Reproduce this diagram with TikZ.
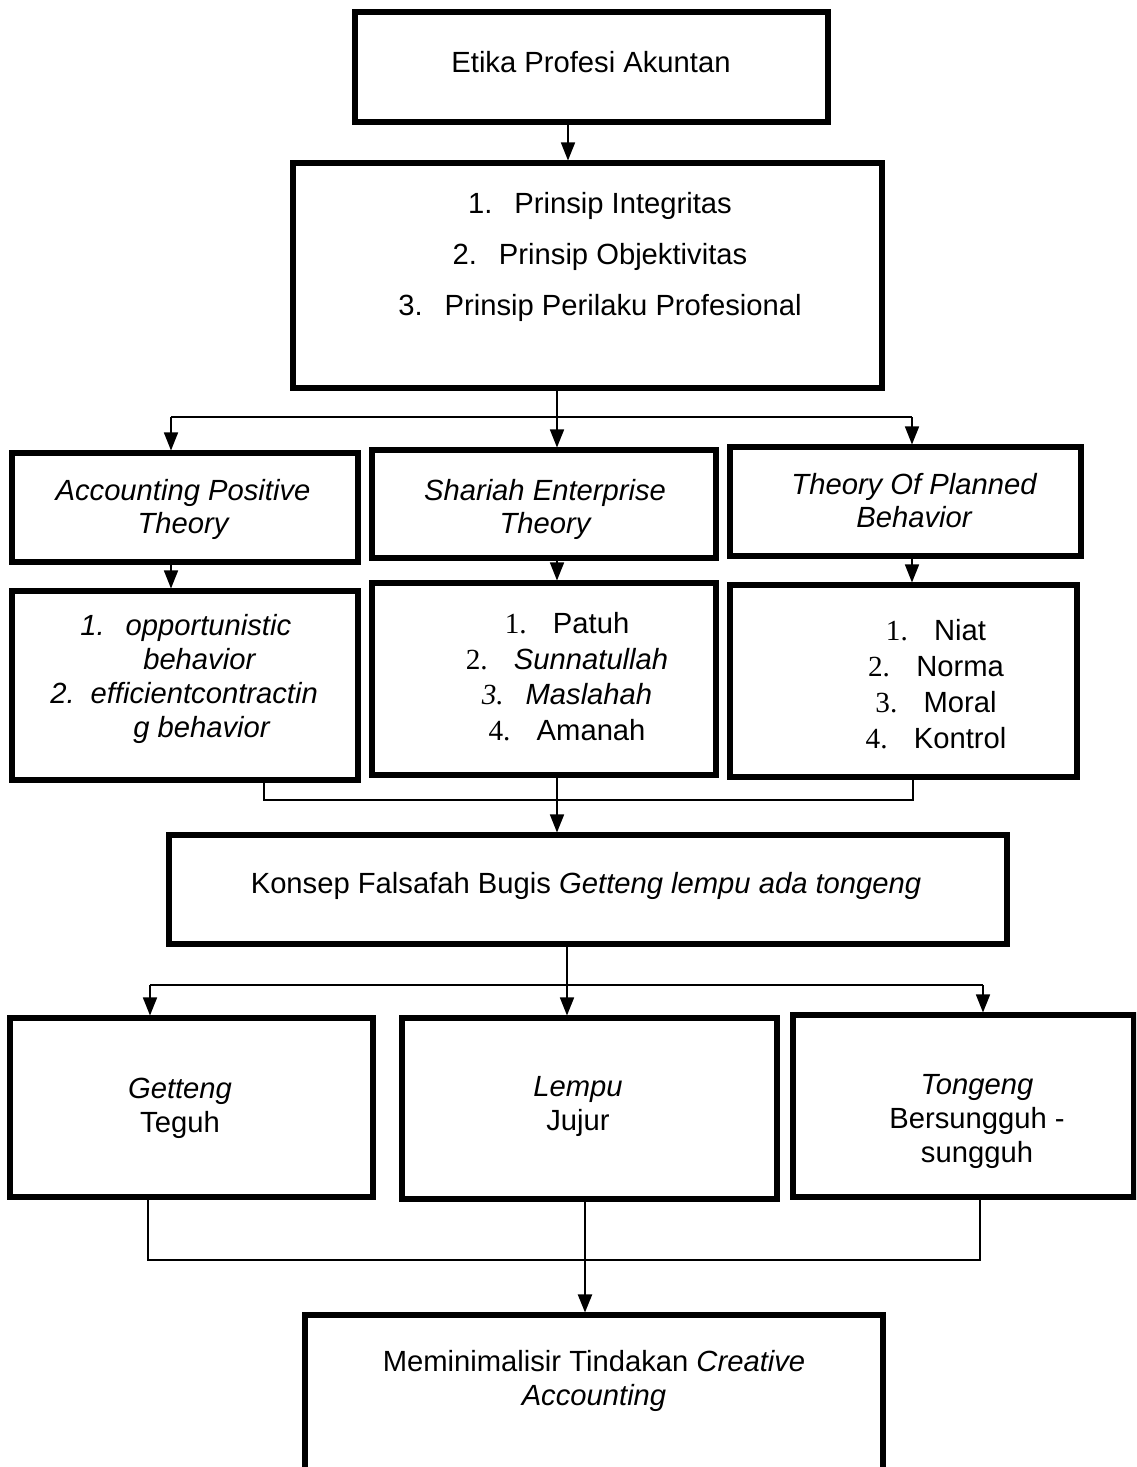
\documentclass[tikz,border=0pt]{standalone}
\usepackage{fontspec}
\setmainfont{Liberation Sans}
\newfontfamily\tnr{Liberation Serif}
\usetikzlibrary{arrows.meta}
\newcommand\bx[5]{\node[boxst, minimum width={(#4-#2)*0.75pt}, minimum height={(#5-#3)*0.75pt}] (#1) at ({(#2+#4)/2},{(#3+#5)/2}) {};}
\begin{document}
\begin{tikzpicture}[x=0.75pt,y=-0.75pt,
  boxst/.style={draw, line width=3.8pt, inner sep=0pt, rectangle},
  txt/.style={inner sep=0pt, align=center},
  ln/.style={line width=1.2pt},
  arr/.style={ln, -{Triangle[width=10.5pt,length=13.5pt]}}]
\useasboundingbox (0,0) rectangle (1136,1467);
\begin{scope}
\clip (0,0) rectangle (1136,1467);
% boxes
\bx{etika}{355}{12}{828}{122}
\bx{prin}{293}{163}{882}{388}
\bx{apt}{12}{453}{358}{562}
\bx{set}{372}{450}{716}{558}
\bx{tpb}{730}{447}{1081}{556}
\bx{lone}{12}{591}{358}{780}
\bx{ltwo}{372}{583}{716}{775}
\bx{lthree}{730}{585}{1077}{777}
\bx{konsep}{169}{835}{1007}{944}
\bx{gt}{10}{1018}{373}{1197}
\bx{lm}{402}{1018}{777}{1199}
\bx{tg}{793}{1015}{1134}{1197}
\bx{final}{305}{1315}{883}{1520}
% texts
\node[txt, font=\fontsize{21.9}{24.75}\selectfont] (etikaT) at (591,62) {Etika Profesi Akuntan};
\node[txt, font=\fontsize{21.9}{38.25}\selectfont] (prinT) at (600,257)
  {1.\hspace{0.75em}Prinsip Integritas\\2.\hspace{0.75em}Prinsip Objektivitas\\3.\hspace{0.75em}Prinsip Perilaku Profesional};
\node[txt, font=\fontsize{21.9}{24.75}\selectfont\itshape] (aptT) at (183,509.5) {Accounting Positive\\Theory};
\node[txt, font=\fontsize{21.9}{24.75}\selectfont\itshape] (setT) at (545,509.5) {Shariah Enterprise\\Theory};
\node[txt, font=\fontsize{21.9}{24.75}\selectfont\itshape] (tpbT) at (914,500.5) {Theory Of Planned\\Behavior};
\node[inner sep=0pt, align=left, anchor=west, font=\fontsize{21.9}{25.3}\selectfont\itshape] (loneT) at (50,679)
  {\hspace*{22.5pt}1.\hspace{15.75pt}opportunistic\\\hspace*{69.75pt}behavior\\2.\hspace{12pt}efficientcontractin\\\hspace*{62.25pt}g behavior};
\node[txt, font=\fontsize{21.9}{26.8}\selectfont] (ltwoT) at (567,676.5)
  {{\tnr 1.}\hspace{0.9em}Patuh\\{\tnr 2.}\hspace{0.9em}\textit{Sunnatullah}\\{\tnr\itshape 3.}\hspace{0.75em}\textit{Maslahah}\\{\tnr 4.}\hspace{0.9em}Amanah};
\node[txt, font=\fontsize{21.9}{27}\selectfont] (lthreeT) at (936,684)
  {{\tnr 1.}\hspace{0.9em}Niat\\{\tnr 2.}\hspace{0.9em}Norma\\{\tnr 3.}\hspace{0.9em}Moral\\{\tnr 4.}\hspace{0.9em}Kontrol};
\node[txt, font=\fontsize{21.9}{24.75}\selectfont] (konsepT) at (586,885.5) {Konsep Falsafah Bugis \textit{Getteng lempu ada tongeng}};
\node[txt, font=\fontsize{21.9}{25.5}\selectfont] (gtT) at (180,1108.5) {\textit{Getteng}\\Teguh};
\node[txt, font=\fontsize{21.9}{25.5}\selectfont] (lmT) at (578,1106) {\textit{Lempu}\\Jujur};
\node[txt, font=\fontsize{21.9}{25.5}\selectfont] (tgT) at (977,1121) {\textit{Tongeng}\\Bersungguh -\\sungguh};
\node[txt, font=\fontsize{21.9}{26}\selectfont] (finalT) at (594,1381) {Meminimalisir Tindakan \textit{Creative}\\\textit{Accounting}};
% junction coordinates
\coordinate (c0) at (568,140);
\coordinate (j1) at (557,417);
\coordinate (j1l) at (171,417);
\coordinate (j1r) at (912,417);
\coordinate (j2) at (557,800);
\coordinate (j2l) at (264,800);
\coordinate (j2r) at (913,800);
\coordinate (j3) at (567,985);
\coordinate (j3l) at (150,985);
\coordinate (j3r) at (983,985);
\coordinate (j4) at (585,1260);
\coordinate (j4l) at (148,1260);
\coordinate (j4r) at (980,1260);
% connectors
\draw[arr] (etika.south -| c0) -- (prin.north -| c0);
\draw[ln] (prin.south -| j1) -- (j1);
\draw[ln] (j1l) -- (j1r);
\draw[arr] (j1l) -- (apt.north -| j1l);
\draw[arr] (j1) -- (set.north -| j1);
\draw[arr] (j1r) -- (tpb.north -| j1r);
\draw[arr] (apt.south -| j1l) -- (lone.north -| j1l);
\draw[arr] (set.south -| j1) -- (ltwo.north -| j1);
\draw[arr] (tpb.south -| j1r) -- (lthree.north -| j1r);
\draw[ln] (lone.south -| j2l) -- (j2l) -- (j2r) -- (lthree.south -| j2r);
\draw[arr] (ltwo.south -| j2) -- (konsep.north -| j2);
\draw[ln] (konsep.south -| j3) -- (j3);
\draw[ln] (j3l) -- (j3r);
\draw[arr] (j3l) -- (gt.north -| j3l);
\draw[arr] (j3) -- (lm.north -| j3);
\draw[arr] (j3r) -- (tg.north -| j3r);
\draw[ln] (gt.south -| j4l) -- (j4l) -- (j4r) -- (tg.south -| j4r);
\draw[arr, line width=1.6pt] (lm.south -| j4) -- (final.north -| j4);
\end{scope}
\end{tikzpicture}
\end{document}
